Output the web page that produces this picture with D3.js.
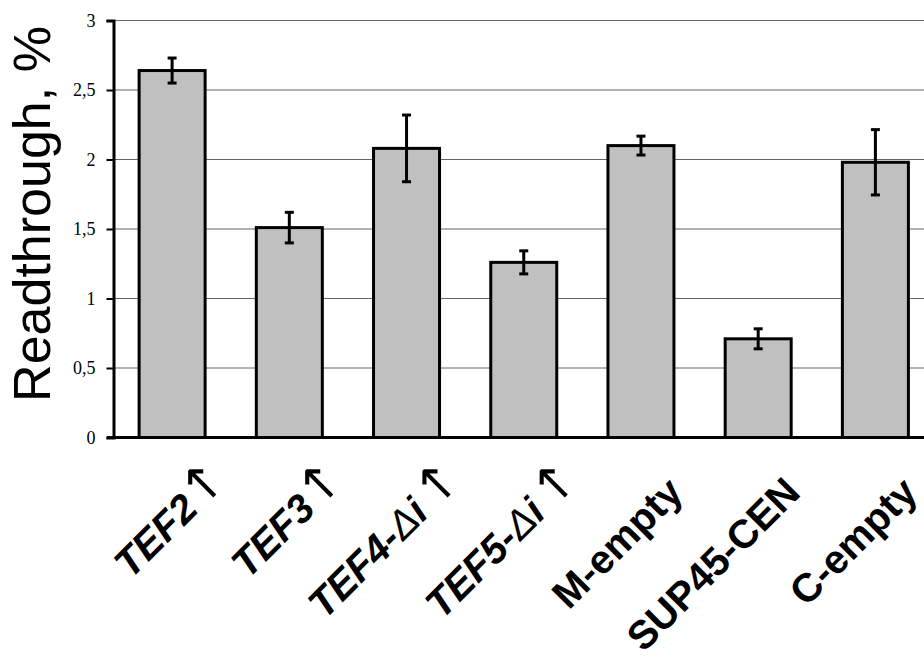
<!DOCTYPE html>
<html>
<head>
<meta charset="utf-8">
<script src="https://cdn.jsdelivr.net/npm/d3@7"></script>
<style>
  html, body { margin: 0; padding: 0; background: #fff; }
  svg { display: block; }
</style>
</head>
<body>
<svg id="chart" width="924" height="658"></svg>
<script>
const categories = ["TEF2\u2191", "TEF3\u2191", "TEF4-\u0394i \u2191", "TEF5-\u0394i \u2191", "M-empty", "SUP45-CEN", "C-empty"];
const values = [2.64, 1.51, 2.08, 1.26, 2.10, 0.71, 1.98];
const errors = [0.09, 0.11, 0.24, 0.083, 0.068, 0.072, 0.235];
const yTicks = [0, 0.5, 1, 1.5, 2, 2.5, 3];
const yTickLabels = ["0", "0,5", "1", "1,5", "2", "2,5", "3"];
const yTitle = "Readthrough, %";

const svg = d3.select("#chart");
const W = 924, H = 658;
const x0 = 113.5, xEnd = 934, yTop = 20.5, yBot = 437.5;

const x = d3.scaleBand().domain(categories).range([x0, xEnd]).padding(0);
const y = d3.scaleLinear().domain([0, 3]).range([yBot, yTop]);

svg.append("g").selectAll("line").data(yTicks.filter(d => d > 0)).join("line")
  .attr("x1", x0).attr("x2", W)
  .attr("y1", d => y(d)).attr("y2", d => y(d))
  .attr("stroke", "#666").attr("stroke-width", 1);

const barW = 66;
svg.append("g").selectAll("rect").data(categories).join("rect")
  .attr("x", d => x(d) + x.bandwidth() / 2 - barW / 2)
  .attr("width", barW)
  .attr("y", (d, i) => y(values[i]))
  .attr("height", (d, i) => y(0) - y(values[i]))
  .attr("fill", "#c0c0c0").attr("stroke", "#000").attr("stroke-width", 3);

const eg = svg.append("g").attr("stroke", "#000").attr("stroke-width", 3);
categories.forEach((c, i) => {
  const cx = x(c) + x.bandwidth() / 2;
  const hi = y(values[i] + errors[i]), lo = y(values[i] - errors[i]);
  eg.append("line").attr("x1", cx).attr("x2", cx).attr("y1", hi).attr("y2", lo);
  eg.append("line").attr("x1", cx - 4.5).attr("x2", cx + 4.5).attr("y1", hi).attr("y2", hi);
  eg.append("line").attr("x1", cx - 4.5).attr("x2", cx + 4.5).attr("y1", lo).attr("y2", lo);
});

const yAxis = d3.axisLeft(y).tickValues(yTicks).tickSize(7).tickPadding(11)
  .tickFormat((d, i) => yTickLabels[i]);
const yg = svg.append("g").attr("transform", `translate(${x0},0)`).call(yAxis)
  .attr("font-family", "'Liberation Serif', 'Times New Roman', serif").attr("font-size", 18);
yg.select(".domain").attr("stroke", "#000").attr("stroke-width", 3);
yg.selectAll(".tick line").attr("stroke", "#000").attr("stroke-width", 2);
yg.selectAll(".tick text").style("font-family", "'Liberation Serif', 'Times New Roman', serif")
  .style("font-size", "18px").attr("fill", "#000");

svg.append("line").attr("x1", 107).attr("x2", W).attr("y1", yBot).attr("y2", yBot)
  .attr("stroke", "#000").attr("stroke-width", 3);

// x labels: each label is a rotated group of plain text runs
function runsOf(c) {
  const italicLabel = c.startsWith("TEF");
  const runs = [];
  for (const ch of c) {
    const thin = ch === "\u0394" || ch === "\u2191" || ch === " ";
    const weight = thin ? "normal" : "bold";
    const style = italicLabel && ch !== "\u2191" ? "italic" : "normal";
    const isArrow = ch === "\u2191";
    const last = runs[runs.length - 1];
    if (last && last.weight === weight && last.style === style && !isArrow && !last.isArrow) last.text += ch;
    else runs.push({ text: ch, weight, style, isArrow });
  }
  return runs;
}
categories.forEach((c, i) => {
  const cx = x(c) + x.bandwidth() / 2;
  const g = svg.append("g").attr("transform", `translate(${cx + 44},${yBot + 57}) rotate(-45)`);
  const runs = runsOf(c);
  const nodes = runs.map(r => {
    const t = g.append("text")
      .attr("font-family", r.isArrow ? "'DejaVu Sans', sans-serif" : "'Liberation Sans', Arial, sans-serif")
      .attr("font-size", r.isArrow ? 50 : (r.text === " " ? 20 : 40))
      .attr("font-weight", r.weight).attr("font-style", r.style)
      .attr("fill", "#000").attr("xml:space", "preserve").style("white-space", "pre")
      .text(r.text);
    return { t, r };
  });
  let pos = 0;
  for (let k = nodes.length - 1; k >= 0; k--) {
    const { t, r } = nodes[k];
    let w = t.node().getComputedTextLength();
    if (r.text === " ") w = 6;
    if (r.isArrow) w -= 19;
    pos -= w;
    t.attr("x", pos);
  }
});

svg.append("text")
  .attr("transform", "translate(50,214) rotate(-90)")
  .attr("text-anchor", "middle")
  .attr("font-family", "'Liberation Sans', Arial, sans-serif")
  .attr("font-size", 52).attr("fill", "#000")
  .text(yTitle);
</script>
</body>
</html>
